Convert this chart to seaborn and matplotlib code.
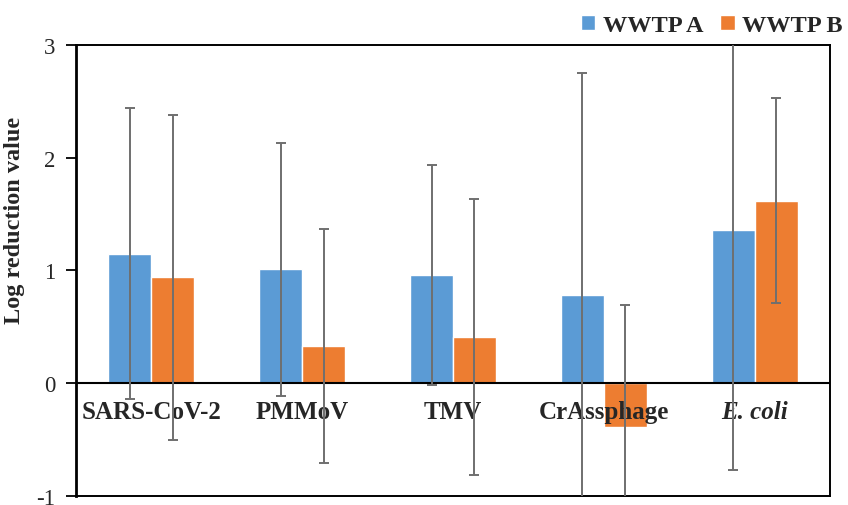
import matplotlib
matplotlib.use("Agg")
import matplotlib.pyplot as plt
import seaborn as sns
import pandas as pd
import numpy as np

categories = ["SARS-CoV-2", "PMMoV", "TMV", "CrAssphage", "E. coli"]
series = ["WWTP A", "WWTP B"]
values_a = [1.15, 1.01, 0.96, 0.78, 1.36]
values_b = [0.94, 0.33, 0.41, -0.39, 1.62]
err_a = [1.29, 1.12, 0.98, 1.97, 2.13]
err_b = [1.44, 1.04, 1.22, 1.08, 0.91]
yticks = [-1, 0, 1, 2, 3]

colors = ["#5B9BD5", "#ED7D31"]

df = pd.DataFrame({
    "cat": categories * 2,
    "series": [series[0]] * len(categories) + [series[1]] * len(categories),
    "val": values_a + values_b,
})

sns.set_style("white")
plt.rcParams["font.family"] = ["Liberation Serif", "DejaVu Serif"]

fig = plt.figure(figsize=(8.48, 5.06), dpi=100)
ax = fig.add_axes([0.0896, 0.0178, 0.8892, 0.8913])

sns.barplot(data=df, x="cat", y="val", hue="series", order=categories,
            hue_order=series, palette=colors, width=0.57, errorbar=None,
            saturation=1, ax=ax, zorder=2)

errs = [err_a, err_b]
vals = [values_a, values_b]
for cont, e, v in zip(ax.containers, errs, vals):
    xs = [p.get_x() + p.get_width() / 2 for p in cont.patches]
    ax.errorbar(xs, v, yerr=e, fmt="none", ecolor="#6f6f6f", elinewidth=1.4,
                capsize=3.5, capthick=1.4, zorder=5)

ax.set_ylim(-1, 3)
ax.set_xlim(-0.5, len(categories) - 0.5)
ax.set_yticks(yticks)
ax.set_yticklabels([str(t) for t in yticks], fontsize=16.5)
ax.tick_params(axis="y", which="both", left=True, length=7, width=1.3,
               direction="out", pad=8, color="black")
ax.set_xticks([])
ax.set_xlabel("")
ax.set_ylabel("Log reduction value", fontsize=17.5, fontweight="bold")
ax.yaxis.set_label_coords(-0.068, 0.614)
ax.axhline(0, color="black", linewidth=1.5, zorder=3)

for i, c in enumerate(categories):
    style = "italic" if c == "E. coli" else "normal"
    ax.text(i, -0.25, c, ha="center", va="center", fontsize=18,
            fontweight="bold", fontstyle=style, zorder=4)

for s in ax.spines.values():
    s.set_visible(True)
    s.set_color("black")
    s.set_linewidth(1.4)
ax.spines["left"].set_linewidth(2)

leg = ax.legend(loc="lower right", bbox_to_anchor=(1.02, 1.014), ncol=2,
                frameon=False, prop={"weight": "bold", "size": 17.5},
                handlelength=0.6, handleheight=0.6, handletextpad=0.3,
                columnspacing=0.7, borderaxespad=0.0, borderpad=0.1)

fig.savefig("out.png", dpi=100)
